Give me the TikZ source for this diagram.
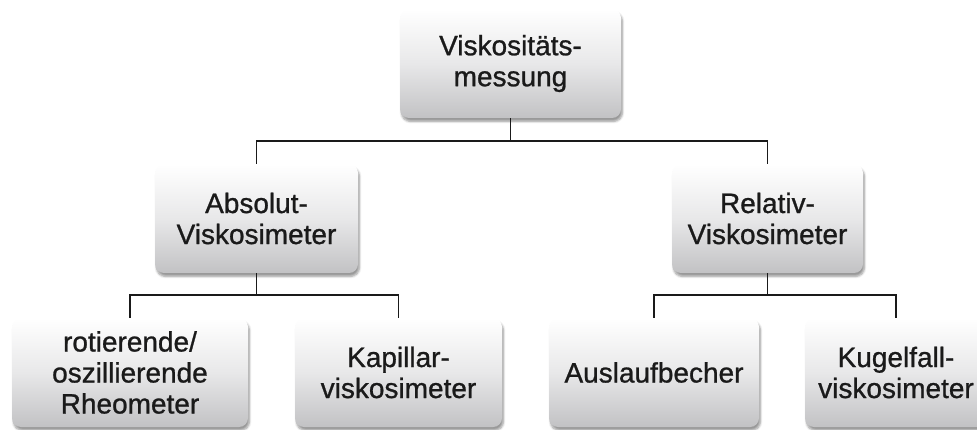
\documentclass[tikz,border=0pt]{standalone}
\usepackage{fontspec}
\setmainfont{Liberation Sans}
\newfontfamily\boxfont{Liberation Sans}[FakeBold=0.9]
\usetikzlibrary{shadows.blur}
\definecolor{txt}{HTML}{1A1A1A}
\definecolor{boxbot}{HTML}{C2C2C4}
\definecolor{boxmid}{HTML}{E8E8E9}
\tikzset{
  vbox/.style={rounded corners=9pt, top color=white, bottom color=boxbot, middle color=boxmid,
    blur shadow={shadow xshift=1.5pt, shadow yshift=-3.5pt, shadow blur steps=6, shadow opacity=40},
    text=txt, align=center, inner sep=0pt,
    font=\boxfont\fontsize{28}{31}\selectfont, minimum height=109pt},
  conn/.style={draw=txt, line width=1.8pt}
}
\begin{document}
\begin{tikzpicture}[x=1pt,y=-1pt]
\useasboundingbox (0,0) rectangle (977,430);
\clip (0,0) rectangle (977,430);
\node[vbox, minimum width=221pt] (top) at (510.5,63.5) {Viskositäts-\\messung};
\node[vbox, minimum width=203pt] (abs) at (256.5,218.5) {Absolut-\\Viskosimeter};
\node[vbox, minimum width=191pt] (rel) at (767.5,218.5) {Relativ-\\Viskosimeter};
\node[vbox, minimum width=236pt] (rot) at (130,372.5) {rotierende/\\oszillierende\\Rheometer};
\node[vbox, minimum width=207pt] (kap) at (398.5,372.5) {Kapillar-\\viskosimeter};
\node[vbox, minimum width=210pt] (aus) at (654,372.5) {Auslaufbecher};
\node[vbox, minimum width=182pt] (kug) at (896,372.5) {Kugelfall-\\viskosimeter};
\draw[conn] (top.south) -- ++(0,23) coordinate (j1);
\draw[conn] (abs.north) |- (j1) -| (rel.north);
\draw[conn] (abs.south) -- ++(0,22) coordinate (j2);
\draw[conn] (rot.north) |- (j2) -| (kap.north);
\draw[conn] (rel.south) -- ++(0,22) coordinate (j3);
\draw[conn] (aus.north) |- (j3) -| (kug.north);
\end{tikzpicture}
\end{document}
